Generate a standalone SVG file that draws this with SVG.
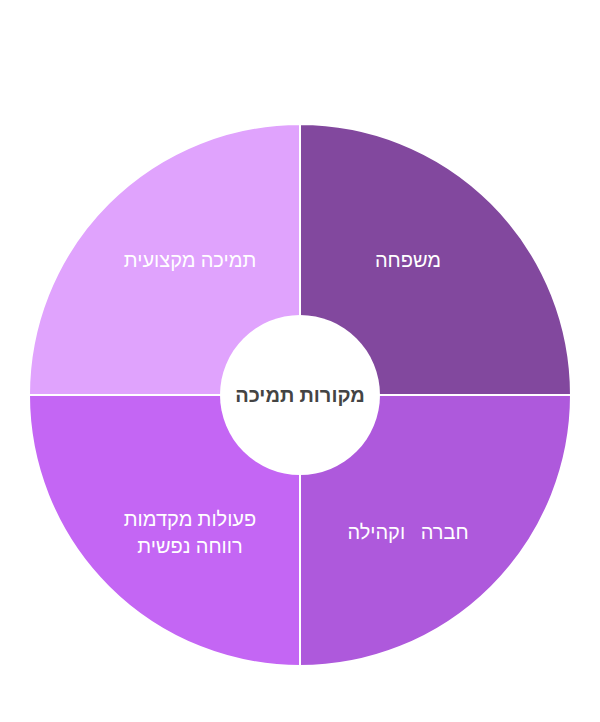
<svg xmlns="http://www.w3.org/2000/svg" width="600" height="722" viewBox="0 0 600 722">
<style>
.q{stroke:#fff;stroke-width:2}
.t{font-family:"Noto Sans","Liberation Sans",sans-serif;font-size:20px;fill:#fff;text-anchor:middle;direction:rtl}
.c{font-family:"Noto Sans","Liberation Sans",sans-serif;font-size:20px;font-weight:bold;fill:#444;text-anchor:middle;direction:rtl}
</style>
<rect width="600" height="722" fill="#fff"/>
<g id="family"><path class="q" d="M300 395 V124 A271 271 0 0 1 571 395 Z" fill="#82489e"/><text class="t" x="408" y="267">משפחה</text></g>
<g id="professional"><path class="q" d="M300 395 H29 A271 271 0 0 1 300 124 Z" fill="#e0a3fd"/><text class="t" x="190" y="267">תמיכה מקצועית</text></g>
<g id="wellbeing"><path class="q" d="M300 395 V666 A271 271 0 0 1 29 395 Z" fill="#c466f4"/><text class="t" x="190" y="526">פעולות מקדמות</text><text class="t" x="190" y="553">רווחה נפשית</text></g>
<g id="community"><path class="q" d="M300 395 H571 A271 271 0 0 1 300 666 Z" fill="#ae59dc"/><text class="t" x="408" y="539" xml:space="preserve">חברה   וקהילה</text></g>
<g id="center"><circle cx="300" cy="395" r="80" fill="#fff"/><text class="c" x="300" y="402">מקורות תמיכה</text></g>
<g id="connectors"/>
</svg>
